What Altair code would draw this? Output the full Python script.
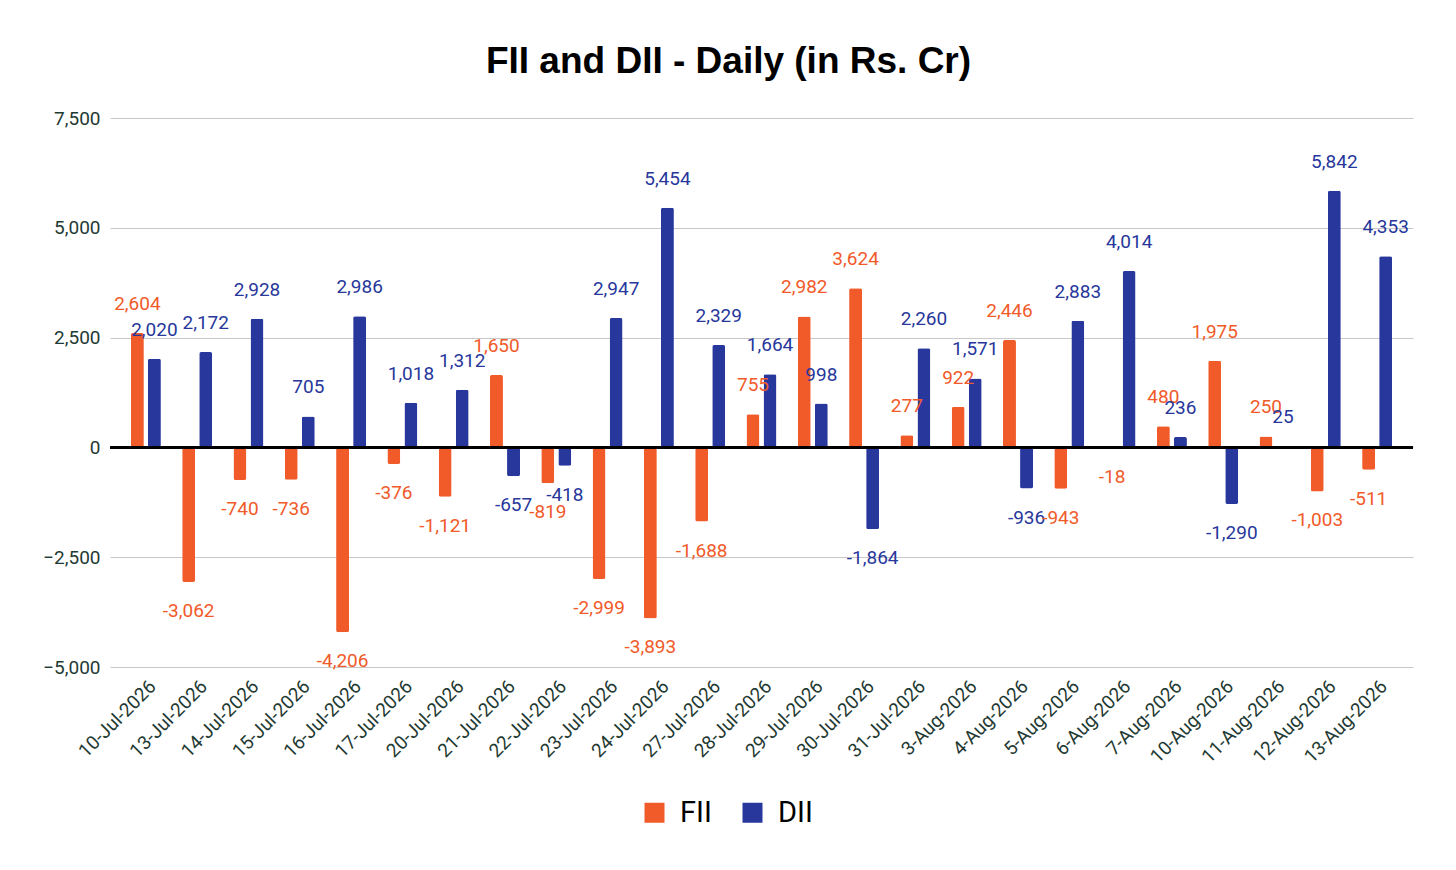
import altair as alt
import pandas as pd

dates = [
    "10-Jul-2026", "13-Jul-2026", "14-Jul-2026", "15-Jul-2026", "16-Jul-2026",
    "17-Jul-2026", "20-Jul-2026", "21-Jul-2026", "22-Jul-2026", "23-Jul-2026",
    "24-Jul-2026", "27-Jul-2026", "28-Jul-2026", "29-Jul-2026", "30-Jul-2026",
    "31-Jul-2026", "3-Aug-2026", "4-Aug-2026", "5-Aug-2026", "6-Aug-2026",
    "7-Aug-2026", "10-Aug-2026", "11-Aug-2026", "12-Aug-2026", "13-Aug-2026",
]
fii = [2604, -3062, -740, -736, -4206, -376, -1121, 1650, -819, -2999,
       -3893, -1688, 755, 2982, 3624, 277, 922, 2446, -943, -18,
       480, 1975, 250, -1003, -511]
dii = [2020, 2172, 2928, 705, 2986, 1018, 1312, -657, -418, 2947,
       5454, 2329, 1664, 998, -1864, 2260, 1571, -936, 2883, 4014,
       236, -1290, 25, 5842, 4353]
series = ["FII", "DII"]
colors = ["#f15a29", "#27379b"]
y_ticks = [-5000, -2500, 0, 2500, 5000, 7500]

rows = []
for d, f, v in zip(dates, fii, dii):
    rows.append({"date": d, "series": "FII", "value": f, "label": f"{f:,}"})
    rows.append({"date": d, "series": "DII", "value": v, "label": f"{v:,}"})
df = pd.DataFrame(rows)

x = alt.X("date:N", sort=dates, title=None,
          scale=alt.Scale(paddingInner=0.415, paddingOuter=0.407),
          axis=alt.Axis(labelAngle=-45, labelAlign="right", labelBaseline="middle",
                        labelFontSize=19, labelColor="#1f3a33", labelFont="Roboto",
                        labelOffset=7, ticks=False, domain=False, grid=False,
                        labelPadding=16))
xo = alt.XOffset("series:N", sort=series, scale=alt.Scale(paddingInner=0.24))
col = alt.Color("series:N", sort=series,
                scale=alt.Scale(domain=series, range=colors),
                legend=alt.Legend(title=None, orient="none", direction="horizontal",
                                  legendX=530, legendY=680, padding=0,
                                  symbolType="square", symbolSize=400,
                                  symbolStrokeWidth=0, labelFontSize=29,
                                  labelFont="Roboto", labelColor="#000000",
                                  columnPadding=26, labelOffset=11))

base = alt.Chart(df)

bars = base.mark_bar(cornerRadius=2).encode(
    x=x,
    xOffset=xo,
    y=alt.Y("value:Q", title=None,
            scale=alt.Scale(domain=[-5000, 7500], nice=False),
            axis=alt.Axis(values=y_ticks, format=",.0f",
                          labelFontSize=19, labelColor="#1f3a33", labelFont="Roboto",
                          ticks=False, domain=False, gridColor="#c8c8c8",
                          labelPadding=10)),
    color=col,
)

zero = base.mark_rule(color="#000000", strokeWidth=1.5).encode(y=alt.datum(0))

label_color = alt.Color("series:N", scale=alt.Scale(domain=series, range=colors), legend=None)

pos = base.transform_filter("datum.value >= 0").mark_text(
    baseline="bottom", dy=-19, fontSize=19, font="Roboto"
).encode(x=x, xOffset=xo, y="value:Q", text="label:N", color=label_color)

neg = base.transform_filter("datum.value < 0").mark_text(
    baseline="top", dy=20, fontSize=19, font="Roboto"
).encode(x=x, xOffset=xo, y="value:Q", text="label:N", color=label_color)

chart = (
    alt.layer(bars, zero, pos, neg)
    .properties(
        width=1303,
        height=549,
        autosize=alt.AutoSizeParams(type="none"),
        padding={"left": 102, "top": 110, "right": 30, "bottom": 190},
        title=alt.Title("FII and DII - Daily (in Rs. Cr)", font="Liberation Sans",
                        fontSize=37, fontWeight="bold", color="#000000",
                        anchor="middle", offset=28, dx=-33),
    )
    .configure_view(stroke=None)
)

chart.save("out.html", embed_options={"renderer": "svg", "actions": False})
